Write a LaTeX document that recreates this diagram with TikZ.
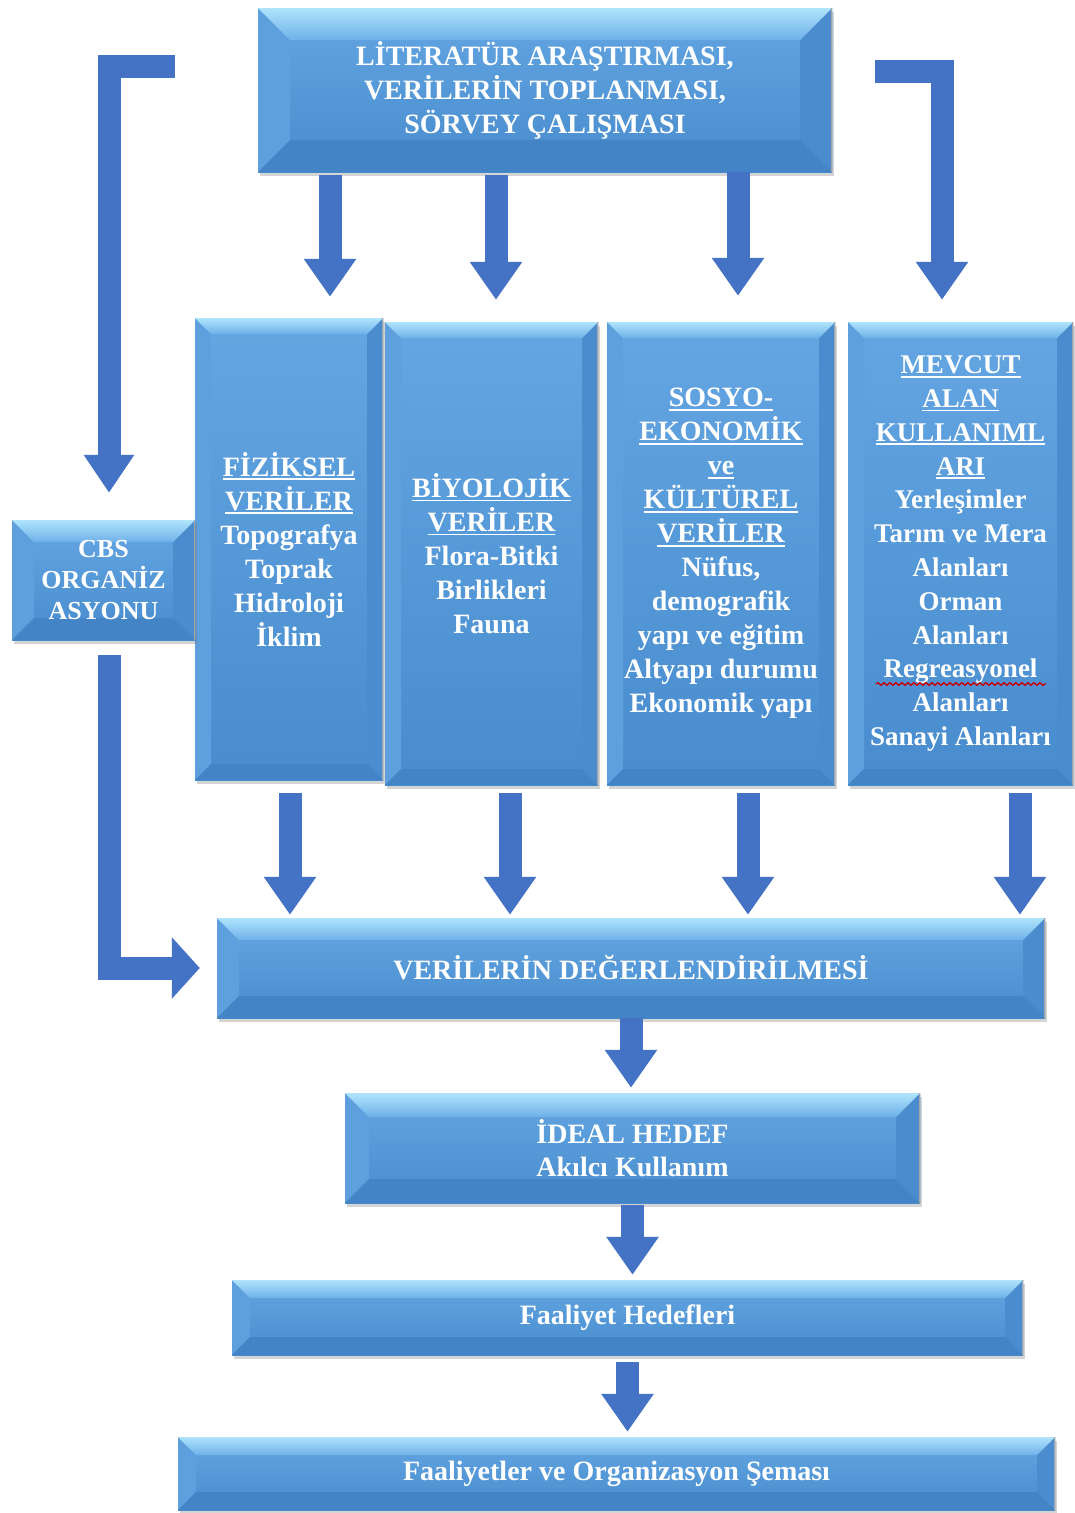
\documentclass[tikz,border=0pt]{standalone}
\usepackage{fontspec}
\setmainfont{Liberation Serif}
\usetikzlibrary{arrows.meta,calc,shadows,decorations.pathmorphing}
\definecolor{arrowblue}{RGB}{68,114,196}
\definecolor{boxtop}{RGB}{100,166,226}
\definecolor{boxbot}{RGB}{72,140,206}
\definecolor{bevtopa}{RGB}{175,228,252}
\definecolor{bevtopb}{RGB}{110,176,232}
\definecolor{bevleft}{RGB}{94,160,222}
\definecolor{bevright}{RGB}{74,140,205}
\definecolor{bevbot}{RGB}{66,132,198}
\newcommand\myul[1]{\setbox0\hbox{#1}\rlap{\rule[-4pt]{\wd0}{1.8pt}}\box0}
\tikzset{
  bevelbox/.style={rectangle, inner sep=0pt, top color=boxtop, bottom color=boxbot, draw=none,
    drop shadow={shadow xshift=1.5pt, shadow yshift=-4pt, opacity=0.3, fill=black!55},
    text=white, align=center, font=\bfseries\fontsize{28}{34}\selectfont,
    path picture={
      \path (path picture bounding box.north west) coordinate (pnw)
            (path picture bounding box.north east) coordinate (pne)
            (path picture bounding box.south west) coordinate (psw)
            (path picture bounding box.south east) coordinate (pse);
      \fill[bevleft] (pnw) -- ($(pnw)+(#1pt,-#1pt)$) -- ($(psw)+(#1pt,#1pt)$) -- (psw) -- cycle;
      \fill[bevright] (pne) -- ($(pne)+(-#1pt,-#1pt)$) -- ($(pse)+(-#1pt,#1pt)$) -- (pse) -- cycle;
      \fill[bevbot] (psw) -- ($(psw)+(#1pt,#1pt)$) -- ($(pse)+(-#1pt,#1pt)$) -- (pse) -- cycle;
      \shade[top color=bevtopa, bottom color=bevtopb] (pnw) -- (pne) -- ($(pne)+(-#1pt,-#1pt)$) -- ($(pnw)+(#1pt,-#1pt)$) -- cycle;
      \draw[black!35, line width=1.2pt] (pne) -- (pse);
    }},
  bevelbox/.default=20,
  barrow/.style={draw=arrowblue, line width=23pt, line join=miter,
    -{Triangle[width=50pt,length=38pt]}},
}
\begin{document}
\begin{tikzpicture}[x=1pt,y=-1pt]
\fill[white] (0,0) rectangle (1075,1513);
\useasboundingbox (0,0) rectangle (1075,1513);

% boxes
\node[bevelbox=32, minimum width=574pt, minimum height=164pt] (top) at (545,90)
  {LİTERATÜR ARAŞTIRMASI,\\VERİLERİN TOPLANMASI,\\SÖRVEY ÇALIŞMASI};
\node[bevelbox=16, minimum width=188pt, minimum height=462pt] (fiz) at (289,549)
  {\myul{FİZİKSEL}\\\myul{VERİLER}\\Topografya\\Toprak\\Hidroloji\\İklim};
\node[bevelbox=16, minimum width=213pt, minimum height=463pt] (biy) at (491.5,553.5)
  {\myul{BİYOLOJİK}\\\myul{VERİLER}\\Flora-Bitki\\Birlikleri\\Fauna};
\node[bevelbox=16, minimum width=228pt, minimum height=463pt] (sos) at (721,553.5)
  {\myul{SOSYO-}\\\myul{EKONOMİK}\\\myul{ve}\\\myul{KÜLTÜREL}\\\myul{VERİLER}\\Nüfus,\\demografik\\yapı ve eğitim\\Altyapı durumu\\Ekonomik yapı};
\node[bevelbox=16, minimum width=225pt, minimum height=463pt, font=\bfseries\fontsize{27}{33.8}\selectfont] (mev) at (960.5,553.5)
  {\myul{MEVCUT}\\\myul{ALAN}\\\myul{KULLANIML}\\\myul{ARI}\\Yerleşimler\\Tarım ve Mera\\Alanları\\Orman\\Alanları\\Regreasyonel\\Alanları\\Sanayi Alanları};
\node[bevelbox=22, minimum width=183pt, minimum height=120pt, font=\bfseries\fontsize{26}{31}\selectfont] (cbs) at (103.5,580)
  {CBS\\ORGANİZ\\ASYONU};
\node[bevelbox=22, minimum width=828pt, minimum height=100pt] (ver) at (631,968)
  {VERİLERİN DEĞERLENDİRİLMESİ};
\node[bevelbox=24, minimum width=575pt, minimum height=110pt, font=\bfseries\fontsize{28}{33}\selectfont] (ideal) at (632.5,1148)
  {İDEAL HEDEF\\Akılcı Kullanım};
\node[bevelbox=18, minimum width=791pt, minimum height=75pt] (fh) at (627.5,1317.5)
  {Faaliyet Hedefleri};
\node[bevelbox=18, minimum width=877pt, minimum height=73pt] (fos) at (616.5,1473.5)
  {Faaliyetler ve Organizasyon Şeması};

% spell-check squiggle
\draw[red!80!black, line width=1.3pt, decorate, decoration={snake, amplitude=1.4pt, segment length=6pt}]
  (876,684) -- (1046,684);

% helper coordinates
\coordinate (a1) at (330,0);
\coordinate (a2) at (496,0);
\coordinate (a3) at (738,0);
\coordinate (rx) at (942,0);
\coordinate (rstart) at (875,71);
\coordinate (lx) at (109,0);
\coordinate (lstart) at (175,66);
\coordinate (b1) at (290,0);
\coordinate (b2) at (510,0);
\coordinate (b3) at (748,0);
\coordinate (b4) at (1020,0);

% arrows from top box
\draw[barrow, shorten <=3pt, shorten >=21pt] (a1 |- top.south) -- (a1 |- fiz.north);
\draw[barrow, shorten <=3pt, shorten >=22pt] (a2 |- top.south) -- (a2 |- biy.north);
\draw[barrow, shorten <=0pt, shorten >=26pt] (a3 |- top.south) -- (a3 |- sos.north);
\draw[barrow, shorten >=22pt] (rstart) -- (rx |- rstart) -- (rx |- mev.north);
\draw[barrow, -{Triangle[width=48pt,length=38pt]}, shorten >=27pt] (lstart) -- (lx |- lstart) -- (lx |- cbs.north);

% CBS to evaluation
\draw[barrow, -{Triangle[width=60pt,length=28pt]}, shorten <=15pt, shorten >=17pt]
  (lx |- cbs.south) -- (lx |- ver.west) -- (ver.west);

% columns to evaluation
\draw[barrow, shorten <=13pt, shorten >=3pt] (b1 |- fiz.south) -- (b1 |- ver.north);
\draw[barrow, shorten <=8pt, shorten >=3pt] (b2 |- biy.south) -- (b2 |- ver.north);
\draw[barrow, shorten <=8pt, shorten >=3pt] (b3 |- sos.south) -- (b3 |- ver.north);
\draw[barrow, shorten <=8pt, shorten >=3pt] (b4 |- mev.south) -- (b4 |- ver.north);

% lower chain
\draw[barrow, shorten >=5pt] (ver.south) -- (ver.south |- ideal.north);
\draw[barrow, shorten <=2pt, shorten >=5pt] (ideal.south) -- (ideal.south |- fh.north);
\draw[barrow, shorten <=7pt, shorten >=5pt] (fh.south) -- (fh.south |- fos.north);
\end{tikzpicture}
\end{document}
